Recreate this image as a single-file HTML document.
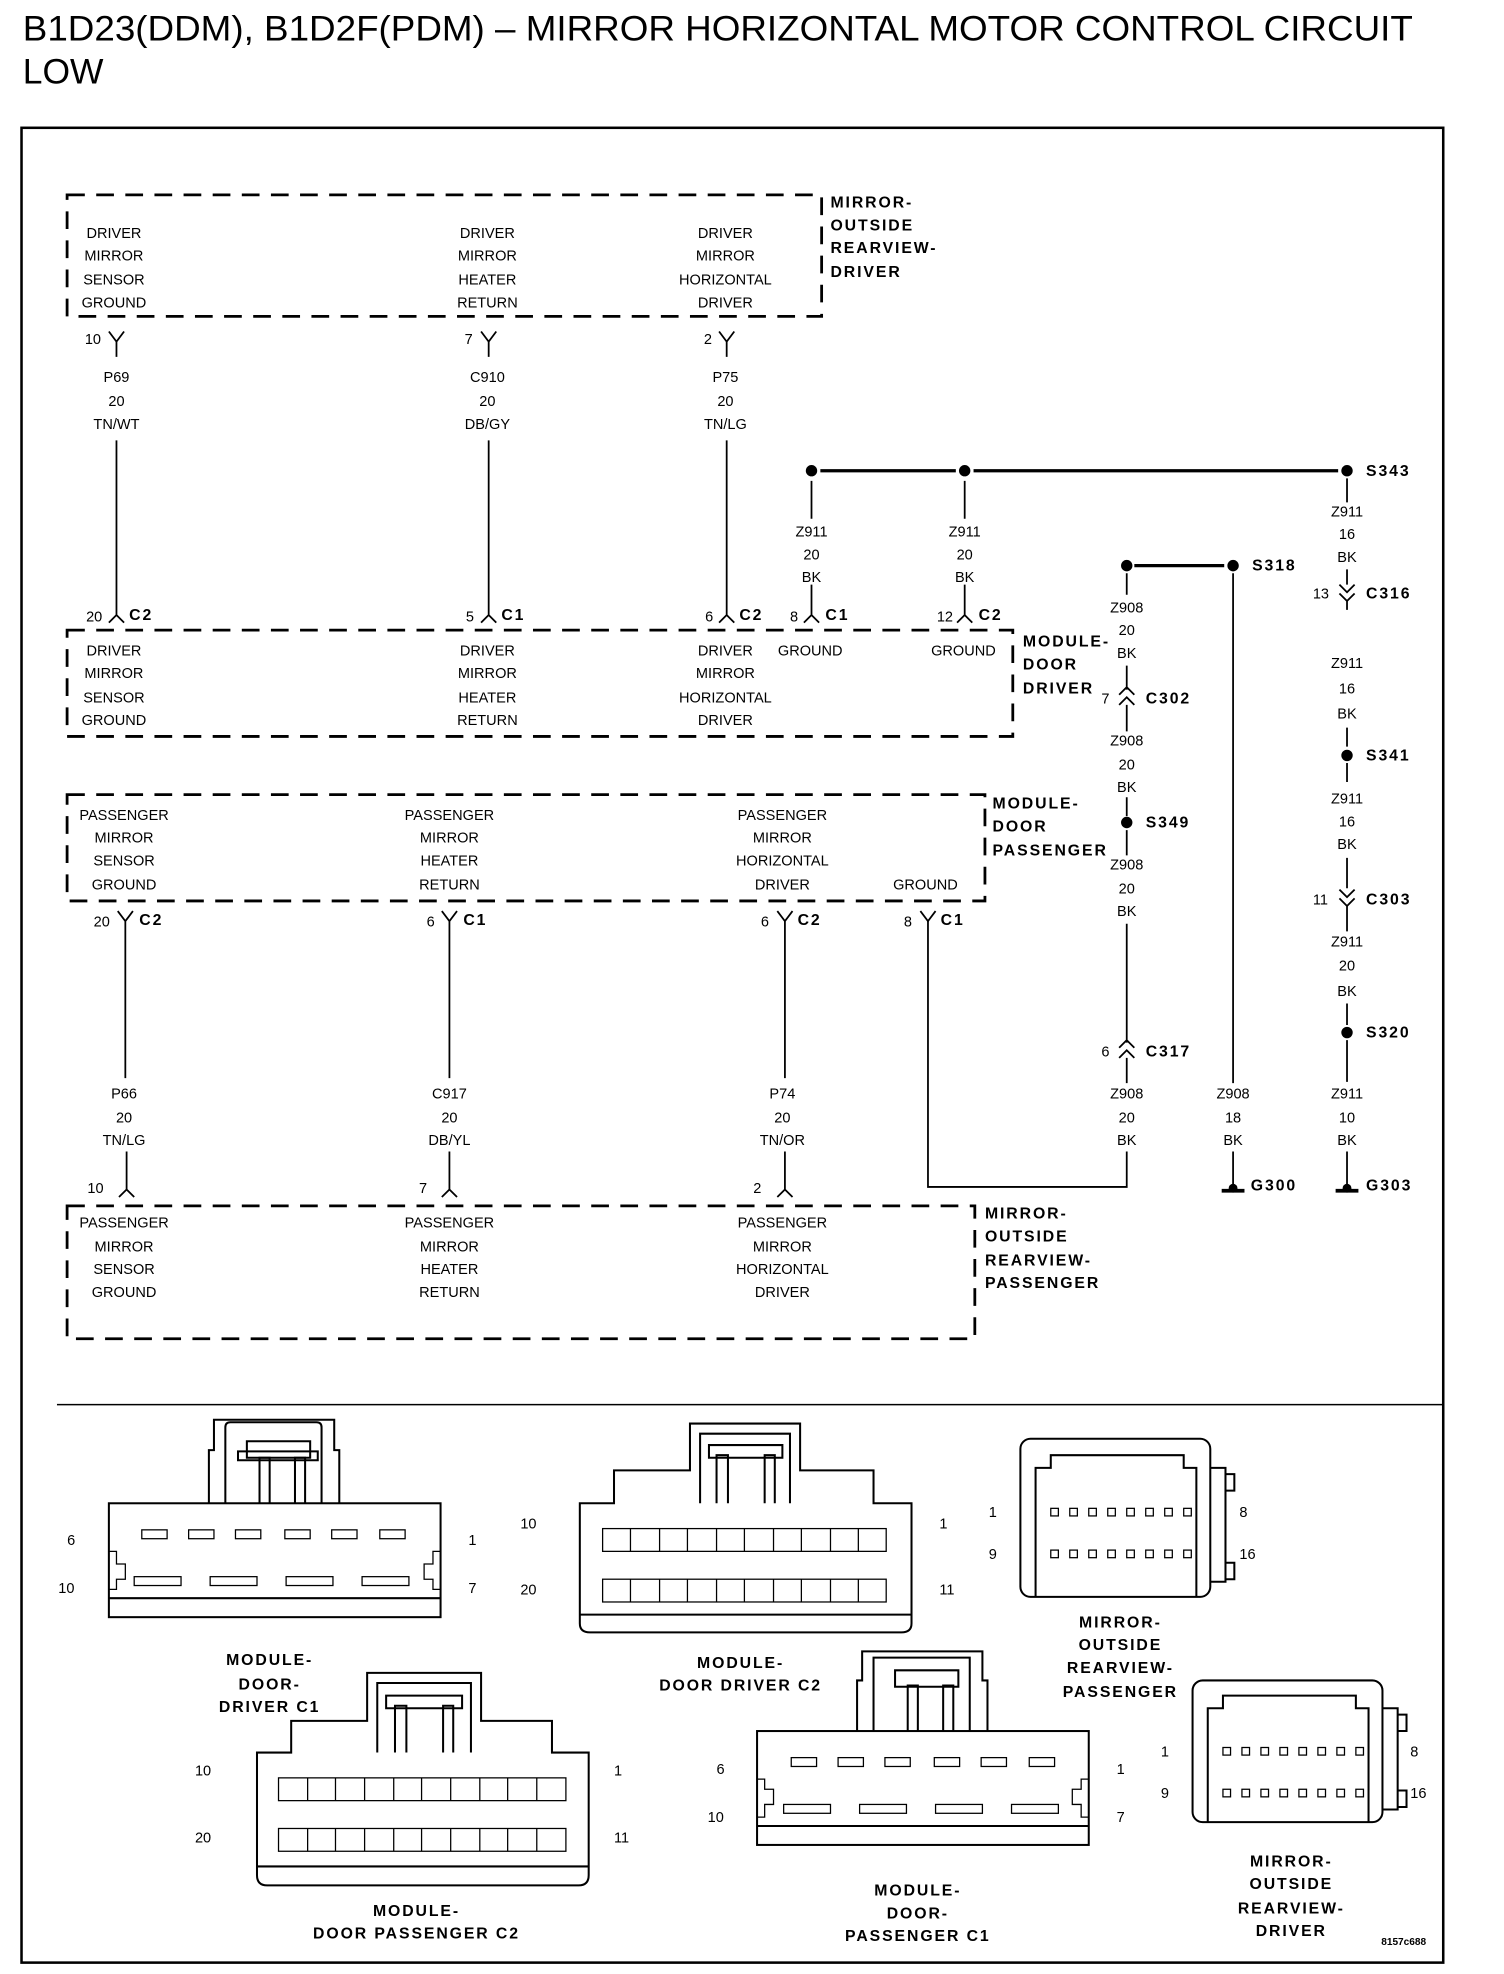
<!DOCTYPE html>
<html><head><meta charset="utf-8"><style>
html,body{margin:0;padding:0;background:#fff;}
svg{display:block}
text{font-family:"Liberation Sans",sans-serif;fill:#000}
.w{font-size:11.5px;text-anchor:middle}
.l{font-size:11.5px}
.b{font-size:12.5px;font-weight:bold;letter-spacing:1.5px}
.bc{font-size:12.5px;font-weight:bold;letter-spacing:1.5px;text-anchor:middle}
.t{font-size:28px}
.dash{fill:none;stroke:#000;stroke-width:2.2;stroke-dasharray:14,9}
.wire{stroke:#000;stroke-width:1.4;fill:none}
.tw{stroke:#000;stroke-width:2.6;fill:none}
.k{fill:none;stroke:#000;stroke-width:1.6}
.kt{fill:none;stroke:#000;stroke-width:1}
</style></head><body>
<svg width="1504" height="1974" viewBox="0 0 1188 1560" preserveAspectRatio="none" xmlns="http://www.w3.org/2000/svg">
<text x="18" y="32" class="t" textLength="1098" lengthAdjust="spacingAndGlyphs">B1D23(DDM), B1D2F(PDM) – MIRROR HORIZONTAL MOTOR CONTROL CIRCUIT</text>
<text x="18" y="66" class="t">LOW</text>
<rect x="17" y="101" width="1123" height="1450" fill="none" stroke="#000" stroke-width="2"/>

<!-- Mirror driver box -->
<rect x="53" y="154" width="596" height="96" class="dash"/>
<text x="656" y="164" class="b">MIRROR-</text><text x="656" y="182" class="b">OUTSIDE</text><text x="656" y="200" class="b">REARVIEW-</text><text x="656" y="219" class="b">DRIVER</text>
<g class="w">
<text x="90" y="188">DRIVER</text><text x="90" y="206">MIRROR</text><text x="90" y="225">SENSOR</text><text x="90" y="243">GROUND</text>
<text x="385" y="188">DRIVER</text><text x="385" y="206">MIRROR</text><text x="385" y="225">HEATER</text><text x="385" y="243">RETURN</text>
<text x="573" y="188">DRIVER</text><text x="573" y="206">MIRROR</text><text x="573" y="225">HORIZONTAL</text><text x="573" y="243">DRIVER</text>
</g>
<g class="wire">
<path d="M86,262 L92,270 L98,262 M92,270 V282"/>
<path d="M380,262 L386,270 L392,262 M386,270 V282"/>
<path d="M568,262 L574,270 L580,262 M574,270 V282"/>
</g>
<text x="67" y="272" class="l">10</text><text x="367" y="272" class="l">7</text><text x="556" y="272" class="l">2</text>
<g class="w">
<text x="92" y="302">P69</text><text x="92" y="321">20</text><text x="92" y="339">TN/WT</text>
<text x="385" y="302">C910</text><text x="385" y="321">20</text><text x="385" y="339">DB/GY</text>
<text x="573" y="302">P75</text><text x="573" y="321">20</text><text x="573" y="339">TN/LG</text>
</g>
<g class="wire">
<path d="M92,348 V486 M86,492 L92,486 L98,492"/>
<path d="M386,348 V486 M380,492 L386,486 L392,492"/>
<path d="M574,348 V486 M568,492 L574,486 L580,492"/>
<path d="M641,380 V410 M641,462 V486 M635,492 L641,486 L647,492"/>
<path d="M762,380 V410 M762,462 V486 M756,492 L762,486 L768,492"/>
</g>
<text x="68" y="491" class="l">20</text><text x="102" y="490" class="b">C2</text>
<text x="368" y="491" class="l">5</text><text x="396" y="490" class="b">C1</text>
<text x="557" y="491" class="l">6</text><text x="584" y="490" class="b">C2</text>
<text x="624" y="491" class="l">8</text><text x="652" y="490" class="b">C1</text>
<text x="740" y="491" class="l">12</text><text x="773" y="490" class="b">C2</text>

<path d="M648,372 H755 M769,372 H1057" class="tw"/>
<circle cx="641" cy="372" r="4.5"/><circle cx="762" cy="372" r="4.5"/><circle cx="1064" cy="372" r="4.5"/>
<text x="1079" y="376" class="b">S343</text>
<g class="w">
<text x="641" y="424">Z911</text><text x="641" y="442">20</text><text x="641" y="460">BK</text>
<text x="762" y="424">Z911</text><text x="762" y="442">20</text><text x="762" y="460">BK</text>
</g>

<rect x="53" y="498" width="747" height="84" class="dash"/>
<text x="808" y="511" class="b">MODULE-</text><text x="808" y="529" class="b">DOOR</text><text x="808" y="548" class="b">DRIVER</text>
<g class="w">
<text x="90" y="518">DRIVER</text><text x="90" y="536">MIRROR</text><text x="90" y="555">SENSOR</text><text x="90" y="573">GROUND</text>
<text x="385" y="518">DRIVER</text><text x="385" y="536">MIRROR</text><text x="385" y="555">HEATER</text><text x="385" y="573">RETURN</text>
<text x="573" y="518">DRIVER</text><text x="573" y="536">MIRROR</text><text x="573" y="555">HORIZONTAL</text><text x="573" y="573">DRIVER</text>
<text x="640" y="518">GROUND</text><text x="761" y="518">GROUND</text>
</g>

<path d="M896,447 H967" class="tw"/>
<circle cx="890" cy="447" r="4.5"/><circle cx="974" cy="447" r="4.5"/>
<text x="989" y="451" class="b">S318</text>
<g class="w">
<text x="890" y="484">Z908</text><text x="890" y="502">20</text><text x="890" y="520">BK</text>
<text x="890" y="589">Z908</text><text x="890" y="608">20</text><text x="890" y="626">BK</text>
<text x="890" y="687">Z908</text><text x="890" y="706">20</text><text x="890" y="724">BK</text>
<text x="890" y="868">Z908</text><text x="890" y="887">20</text><text x="890" y="905">BK</text>
<text x="974" y="868">Z908</text><text x="974" y="887">18</text><text x="974" y="905">BK</text>
</g>
<g class="wire">
<path d="M890,453 V470 M890,526 V545 M884,549 L890,543 L896,549 M884,557 L890,551 L896,557 M890,557 V578"/>
<path d="M890,630 V645 M890,656 V676"/>
<path d="M890,730 V824 M884,828 L890,822 L896,828 M884,836 L890,830 L896,836 M890,836 V856"/>
<path d="M890,910 V938 H733 V727"/>
<path d="M974,453 V856 M974,910 V936"/>
</g>
<text x="870" y="556" class="l">7</text><text x="905" y="556" class="b">C302</text>
<circle cx="890" cy="650" r="4.5"/><text x="905" y="654" class="b">S349</text>
<text x="870" y="835" class="l">6</text><text x="905" y="835" class="b">C317</text>
<path d="M965,941 H983" stroke="#000" stroke-width="3"/><circle cx="974" cy="939" r="3.5"/>
<text x="988" y="941" class="b">G300</text>

<g class="w">
<text x="1064" y="408">Z911</text><text x="1064" y="426">16</text><text x="1064" y="444">BK</text>
<text x="1064" y="528">Z911</text><text x="1064" y="548">16</text><text x="1064" y="568">BK</text>
<text x="1064" y="635">Z911</text><text x="1064" y="653">16</text><text x="1064" y="671">BK</text>
<text x="1064" y="748">Z911</text><text x="1064" y="767">20</text><text x="1064" y="787">BK</text>
<text x="1064" y="868">Z911</text><text x="1064" y="887">10</text><text x="1064" y="905">BK</text>
</g>
<g class="wire">
<path d="M1064,378 V397 M1064,450 V462 M1058,462 L1064,468 L1070,462 M1058,469 L1064,475 L1070,469 M1064,475 V482"/>
<path d="M1064,575 V590 M1064,603 V618"/>
<path d="M1064,678 V702 M1058,703 L1064,709 L1070,703 M1058,710 L1064,716 L1070,710 M1064,716 V736"/>
<path d="M1064,793 V810 M1064,822 V855 M1064,910 V936"/>
</g>
<text x="1037" y="473" class="l">13</text><text x="1079" y="473" class="b">C316</text>
<circle cx="1064" cy="597" r="4.5"/><text x="1079" y="601" class="b">S341</text>
<text x="1037" y="715" class="l">11</text><text x="1079" y="715" class="b">C303</text>
<circle cx="1064" cy="816" r="4.5"/><text x="1079" y="820" class="b">S320</text>
<path d="M1055,941 H1073" stroke="#000" stroke-width="3"/><circle cx="1064" cy="939" r="3.5"/>
<text x="1079" y="941" class="b">G303</text>

<rect x="53" y="628" width="725" height="84" class="dash"/>
<text x="784" y="639" class="b">MODULE-</text><text x="784" y="657" class="b">DOOR</text><text x="784" y="676" class="b">PASSENGER</text>
<g class="w">
<text x="98" y="648">PASSENGER</text><text x="98" y="666">MIRROR</text><text x="98" y="684">SENSOR</text><text x="98" y="703">GROUND</text>
<text x="355" y="648">PASSENGER</text><text x="355" y="666">MIRROR</text><text x="355" y="684">HEATER</text><text x="355" y="703">RETURN</text>
<text x="618" y="648">PASSENGER</text><text x="618" y="666">MIRROR</text><text x="618" y="684">HORIZONTAL</text><text x="618" y="703">DRIVER</text>
<text x="731" y="703">GROUND</text>
</g>
<g class="wire">
<path d="M93,720 L99,728 L105,720 M99,728 V852"/>
<path d="M349,720 L355,728 L361,720 M355,728 V852"/>
<path d="M614,720 L620,728 L626,720 M620,728 V852"/>
<path d="M727,720 L733,728 L739,720"/>
<path d="M100,910 V940 M94,946 L100,940 L106,946"/>
<path d="M355,910 V940 M349,946 L355,940 L361,946"/>
<path d="M620,910 V940 M614,946 L620,940 L626,946"/>
</g>
<text x="74" y="732" class="l">20</text><text x="110" y="731" class="b">C2</text>
<text x="337" y="732" class="l">6</text><text x="366" y="731" class="b">C1</text>
<text x="601" y="732" class="l">6</text><text x="630" y="731" class="b">C2</text>
<text x="714" y="732" class="l">8</text><text x="743" y="731" class="b">C1</text>
<g class="w">
<text x="98" y="868">P66</text><text x="98" y="887">20</text><text x="98" y="905">TN/LG</text>
<text x="355" y="868">C917</text><text x="355" y="887">20</text><text x="355" y="905">DB/YL</text>
<text x="618" y="868">P74</text><text x="618" y="887">20</text><text x="618" y="905">TN/OR</text>
</g>
<text x="69" y="943" class="l">10</text><text x="331" y="943" class="l">7</text><text x="595" y="943" class="l">2</text>

<rect x="53" y="953" width="717" height="105" class="dash"/>
<text x="778" y="963" class="b">MIRROR-</text><text x="778" y="981" class="b">OUTSIDE</text><text x="778" y="1000" class="b">REARVIEW-</text><text x="778" y="1018" class="b">PASSENGER</text>
<g class="w">
<text x="98" y="970">PASSENGER</text><text x="98" y="989">MIRROR</text><text x="98" y="1007">SENSOR</text><text x="98" y="1025">GROUND</text>
<text x="355" y="970">PASSENGER</text><text x="355" y="989">MIRROR</text><text x="355" y="1007">HEATER</text><text x="355" y="1025">RETURN</text>
<text x="618" y="970">PASSENGER</text><text x="618" y="989">MIRROR</text><text x="618" y="1007">HORIZONTAL</text><text x="618" y="1025">DRIVER</text>
</g>

<path d="M45,1110 H1140" stroke="#000" stroke-width="1.2"/>

<g class="k">
<rect x="86" y="1188" width="262" height="90"/><path d="M86,1263 H348"/>
<path d="M165,1188 V1146 H169 V1122 H264 V1146 H268 V1188 M178,1188 V1128 Q178,1124 182,1124 H250 Q254,1124 254,1128 V1188"/>
<path d="M205,1188 V1152 H213 V1188 M233,1188 V1152 H241 V1188"/>
<path d="M195,1139 H245 V1152 H195 Z M188,1147 H251 V1154 H188 Z"/>
</g>
<g class="kt"><rect x="112" y="1209" width="20" height="7"/><rect x="149" y="1209" width="20" height="7"/><rect x="186" y="1209" width="20" height="7"/><rect x="225" y="1209" width="20" height="7"/><rect x="262" y="1209" width="20" height="7"/><rect x="300" y="1209" width="20" height="7"/>
<rect x="106" y="1246" width="37" height="7"/><rect x="166" y="1246" width="37" height="7"/><rect x="226" y="1246" width="37" height="7"/><rect x="286" y="1246" width="37" height="7"/>
<path d="M86,1226 H92 V1236 H99 V1248 H92 V1256 H86 M348,1226 H342 V1236 H335 V1248 H342 V1256 H348"/></g>
<text x="53" y="1221" class="l">6</text><text x="46" y="1259" class="l">10</text><text x="370" y="1221" class="l">1</text><text x="370" y="1259" class="l">7</text>
<text x="213" y="1316" class="bc">MODULE-</text><text x="213" y="1335" class="bc">DOOR-</text><text x="213" y="1353" class="bc">DRIVER C1</text>

<g class="k">
<path d="M458,1188 H485 V1162 H545 V1125 H632 V1162 H690 V1188 H720 V1283 Q720,1290 712,1290 H466 Q458,1290 458,1283 Z"/>
<path d="M458,1276 H720"/>
<path d="M553,1188 V1133 H624 V1188 M566,1188 V1150 H575 V1188 M604,1188 V1150 H612 V1188 M560,1142 H618 V1152 H560 Z"/>
</g>
<g class="kt"><rect x="476" y="1208" width="224" height="18"/><rect x="476" y="1248" width="224" height="18"/>
<path d="M498,1208V1226M521,1208V1226M543,1208V1226M566,1208V1226M588,1208V1226M611,1208V1226M633,1208V1226M656,1208V1226M678,1208V1226"/>
<path d="M498,1248V1266M521,1248V1266M543,1248V1266M566,1248V1266M588,1248V1266M611,1248V1266M633,1248V1266M656,1248V1266M678,1248V1266"/></g>
<text x="411" y="1208" class="l">10</text><text x="411" y="1260" class="l">20</text><text x="742" y="1208" class="l">1</text><text x="742" y="1260" class="l">11</text>
<text x="585" y="1318" class="bc">MODULE-</text><text x="585" y="1336" class="bc">DOOR DRIVER C2</text>

<g class="k">
<rect x="806" y="1137" width="150" height="125" rx="8"/>
<path d="M818,1262 V1160 H830 V1150 H935 V1160 H945 V1262"/>
<path d="M956,1160 H968 V1250 H956 M968,1165 H975 V1178 H968 M968,1235 H975 V1248 H968"/>
</g>
<g class="kt">
<rect x="830" y="1192" width="6" height="6"/><rect x="845" y="1192" width="6" height="6"/><rect x="860" y="1192" width="6" height="6"/><rect x="875" y="1192" width="6" height="6"/><rect x="890" y="1192" width="6" height="6"/><rect x="905" y="1192" width="6" height="6"/><rect x="920" y="1192" width="6" height="6"/><rect x="935" y="1192" width="6" height="6"/>
<rect x="830" y="1225" width="6" height="6"/><rect x="845" y="1225" width="6" height="6"/><rect x="860" y="1225" width="6" height="6"/><rect x="875" y="1225" width="6" height="6"/><rect x="890" y="1225" width="6" height="6"/><rect x="905" y="1225" width="6" height="6"/><rect x="920" y="1225" width="6" height="6"/><rect x="935" y="1225" width="6" height="6"/>
</g>
<text x="781" y="1199" class="l">1</text><text x="781" y="1232" class="l">9</text><text x="979" y="1199" class="l">8</text><text x="979" y="1232" class="l">16</text>
<text x="885" y="1286" class="bc">MIRROR-</text><text x="885" y="1304" class="bc">OUTSIDE</text><text x="885" y="1322" class="bc">REARVIEW-</text><text x="885" y="1341" class="bc">PASSENGER</text>

<g class="k">
<path d="M203,1385 H230 V1360 H290 V1322 H380 V1360 H436 V1385 H465 V1482 Q465,1490 457,1490 H211 Q203,1490 203,1482 Z"/>
<path d="M203,1475 H465"/>
<path d="M298,1385 V1330 H372 V1385 M312,1385 V1348 H321 V1385 M350,1385 V1348 H358 V1385 M305,1340 H365 V1350 H305 Z"/>
</g>
<g class="kt"><rect x="220" y="1405" width="227" height="18"/><rect x="220" y="1445" width="227" height="18"/>
<path d="M243,1405V1423M265,1405V1423M288,1405V1423M311,1405V1423M333,1405V1423M356,1405V1423M379,1405V1423M401,1405V1423M424,1405V1423"/>
<path d="M243,1445V1463M265,1445V1463M288,1445V1463M311,1445V1463M333,1445V1463M356,1445V1463M379,1445V1463M401,1445V1463M424,1445V1463"/></g>
<text x="154" y="1403" class="l">10</text><text x="154" y="1456" class="l">20</text><text x="485" y="1403" class="l">1</text><text x="485" y="1456" class="l">11</text>
<text x="329" y="1514" class="bc">MODULE-</text><text x="329" y="1532" class="bc">DOOR PASSENGER C2</text>

<g class="k">
<rect x="598" y="1368" width="262" height="90"/><path d="M598,1443 H860"/>
<path d="M677,1368 V1328 H681 V1305 H776 V1328 H780 V1368 M690,1368 V1310 H766 V1368"/>
<path d="M717,1368 V1332 H725 V1368 M745,1368 V1332 H753 V1368 M707,1320 H757 V1333 H707 Z"/>
</g>
<g class="kt"><rect x="625" y="1389" width="20" height="7"/><rect x="662" y="1389" width="20" height="7"/><rect x="699" y="1389" width="20" height="7"/><rect x="738" y="1389" width="20" height="7"/><rect x="775" y="1389" width="20" height="7"/><rect x="813" y="1389" width="20" height="7"/>
<rect x="619" y="1426" width="37" height="7"/><rect x="679" y="1426" width="37" height="7"/><rect x="739" y="1426" width="37" height="7"/><rect x="799" y="1426" width="37" height="7"/>
<path d="M598,1406 H604 V1414 H611 V1426 H604 V1436 H598 M860,1406 H854 V1414 H847 V1426 H854 V1436 H860"/></g>
<text x="566" y="1402" class="l">6</text><text x="559" y="1440" class="l">10</text><text x="882" y="1402" class="l">1</text><text x="882" y="1440" class="l">7</text>
<text x="725" y="1498" class="bc">MODULE-</text><text x="725" y="1516" class="bc">DOOR-</text><text x="725" y="1534" class="bc">PASSENGER C1</text>

<g class="k">
<rect x="942" y="1328" width="150" height="112" rx="8"/>
<path d="M954,1440 V1350 H966 V1340 H1071 V1350 H1081 V1440"/>
<path d="M1092,1350 H1104 V1430 H1092 M1104,1355 H1111 V1368 H1104 M1104,1415 H1111 V1428 H1104"/>
</g>
<g class="kt">
<rect x="966" y="1381" width="6" height="6"/><rect x="981" y="1381" width="6" height="6"/><rect x="996" y="1381" width="6" height="6"/><rect x="1011" y="1381" width="6" height="6"/><rect x="1026" y="1381" width="6" height="6"/><rect x="1041" y="1381" width="6" height="6"/><rect x="1056" y="1381" width="6" height="6"/><rect x="1071" y="1381" width="6" height="6"/>
<rect x="966" y="1414" width="6" height="6"/><rect x="981" y="1414" width="6" height="6"/><rect x="996" y="1414" width="6" height="6"/><rect x="1011" y="1414" width="6" height="6"/><rect x="1026" y="1414" width="6" height="6"/><rect x="1041" y="1414" width="6" height="6"/><rect x="1056" y="1414" width="6" height="6"/><rect x="1071" y="1414" width="6" height="6"/>
</g>
<text x="917" y="1388" class="l">1</text><text x="917" y="1421" class="l">9</text><text x="1114" y="1388" class="l">8</text><text x="1114" y="1421" class="l">16</text>
<text x="1020" y="1475" class="bc">MIRROR-</text><text x="1020" y="1493" class="bc">OUTSIDE</text><text x="1020" y="1512" class="bc">REARVIEW-</text><text x="1020" y="1530" class="bc">DRIVER</text>
<text x="1091" y="1537" style="font-size:8px;font-weight:bold">8157c688</text>
</svg>
</body></html>
